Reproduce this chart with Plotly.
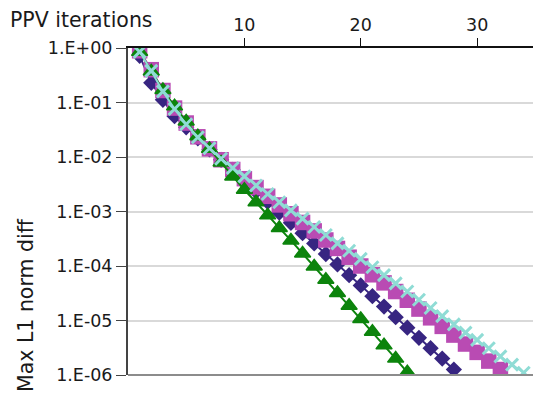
import plotly.graph_objects as go

# Iteration counts for each run
iters_blue = list(range(1, 29))
iters_magenta = list(range(1, 33))
iters_green = list(range(1, 25))
iters_cyan = list(range(1, 35))

# Max L1 norm difference per iteration
diff_blue = [0.72, 0.23, 0.112, 0.056, 0.035, 0.022, 0.0138, 8.9e-3, 5.8e-3, 3.7e-3,
             2.35e-3, 1.5e-3, 9.5e-4, 6.2e-4, 4.0e-4, 2.6e-4, 1.66e-4, 1.07e-4, 6.8e-5, 4.4e-5,
             2.8e-5, 1.8e-5, 1.15e-5, 7.4e-6, 4.8e-6, 3.1e-6, 2.0e-6, 1.26e-6]
diff_magenta = [0.89, 0.40, 0.166, 0.079, 0.042, 0.0235, 0.0141, 8.9e-3, 5.9e-3, 4.0e-3,
                2.75e-3, 1.9e-3, 1.32e-3, 9.1e-4, 6.3e-4, 4.4e-4, 3.0e-4, 2.1e-4, 1.45e-4, 1.0e-4,
                6.9e-5, 4.9e-5, 3.4e-5, 2.35e-5, 1.62e-5, 1.12e-5, 7.8e-6, 5.4e-6, 3.7e-6, 2.6e-6,
                1.8e-6, 1.26e-6]
diff_green = [0.85, 0.37, 0.17, 0.085, 0.045, 0.024, 0.0141, 7.9e-3, 4.4e-3, 2.5e-3,
              1.48e-3, 8.5e-4, 5.0e-4, 2.95e-4, 1.7e-4, 9.8e-5, 5.6e-5, 3.2e-5, 1.86e-5, 1.07e-5,
              6.2e-6, 3.5e-6, 2.0e-6, 1.12e-6]
diff_cyan = [0.85, 0.38, 0.16, 0.076, 0.040, 0.023, 0.0145, 9.3e-3, 6.3e-3, 4.4e-3,
             3.0e-3, 2.1e-3, 1.48e-3, 1.05e-3, 7.4e-4, 5.2e-4, 3.7e-4, 2.6e-4, 1.9e-4, 1.35e-4,
             9.5e-5, 6.8e-5, 4.8e-5, 3.4e-5, 2.4e-5, 1.7e-5, 1.2e-5, 8.5e-6, 6.0e-6, 4.4e-6,
             3.1e-6, 2.2e-6, 1.55e-6, 1.1e-6]

# Axis ticks
y_tick_vals = [1e0, 1e-1, 1e-2, 1e-3, 1e-4, 1e-5, 1e-6]
y_tick_text = ["1.E+00", "1.E-01", "1.E-02", "1.E-03", "1.E-04", "1.E-05", "1.E-06"]
x_tick_vals = [10, 20, 30]

FONT = "DejaVu Sans"
TEXT = "#1a1a1a"
BLUE = "#372581"
MAGENTA = "#b94bb3"
GREEN = "#0c840c"
CYAN = "#8fdcd5"

fig = go.Figure()

fig.add_trace(go.Scatter(
    x=iters_blue, y=diff_blue, mode="lines+markers",
    line=dict(color=BLUE, width=2),
    marker=dict(symbol="diamond", size=12.5, color=BLUE),
))
fig.add_trace(go.Scatter(
    x=iters_magenta, y=diff_magenta, mode="lines+markers",
    line=dict(color=MAGENTA, width=2),
    marker=dict(symbol="square", size=15.5, color=MAGENTA),
))
fig.add_trace(go.Scatter(
    x=iters_green, y=diff_green, mode="lines+markers",
    line=dict(color=GREEN, width=2),
    marker=dict(symbol="triangle-up", size=14, color=GREEN,
                line=dict(color=GREEN, width=1.5)),
))
fig.add_trace(go.Scatter(
    x=iters_cyan, y=diff_cyan, mode="lines+markers",
    line=dict(color=CYAN, width=2),
    marker=dict(symbol="x-thin", size=12, color=CYAN,
                line=dict(color=CYAN, width=3)),
))

# Bottom border of the plot area
fig.add_shape(type="line", xref="x domain", yref="y domain",
              x0=0, x1=1, y0=0, y1=0, line=dict(color="#8c8c8c", width=2))

fig.update_layout(
    width=533, height=394,
    margin=dict(l=128, r=0, t=48, b=19),
    paper_bgcolor="white", plot_bgcolor="white",
    showlegend=False,
    font=dict(family=FONT, size=17.5, color=TEXT),
    xaxis=dict(
        side="top", range=[0, 34.8], tickvals=x_tick_vals,
        showgrid=False, zeroline=False,
        showline=True, linecolor="#111111", linewidth=1.5,
        ticks="outside", ticklen=8, tickwidth=1.2, tickcolor="#111111",
        tickfont=dict(family=FONT, size=17.5, color=TEXT),
    ),
    yaxis=dict(
        type="log", range=[-6, 0],
        tickvals=y_tick_vals, ticktext=y_tick_text,
        showgrid=True, gridcolor="#d9d9d9", gridwidth=1.5,
        zeroline=False,
        showline=True, linecolor="#444444", linewidth=2,
        ticks="outside", ticklen=10, tickwidth=1.2, tickcolor="#444444",
        tickfont=dict(family=FONT, size=17.5, color=TEXT),
    ),
    annotations=[
        dict(text="PPV iterations", xref="paper", yref="paper",
             x=(8 - 128) / 405, y=(375 - 20) / 327, xanchor="left", yanchor="middle",
             showarrow=False, font=dict(family=FONT, size=20.5, color=TEXT)),
        dict(text="Max L1 norm diff", xref="paper", yref="paper",
             x=(26 - 128) / 405, y=(375 - 305) / 327, xanchor="center", yanchor="middle",
             textangle=-90, showarrow=False,
             font=dict(family=FONT, size=20.5, color=TEXT)),
    ],
)

fig.write_html("out.html")
